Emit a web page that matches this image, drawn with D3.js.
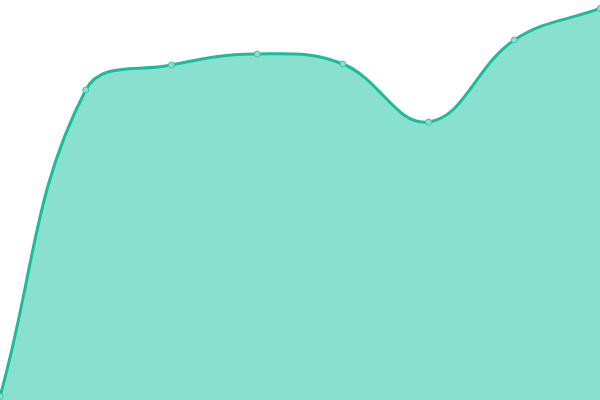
<!DOCTYPE html>
<html>
<head>
<meta charset="utf-8">
<script src="https://cdn.jsdelivr.net/npm/d3@7"></script>
<style>
  html, body { margin: 0; padding: 0; background: #fff; }
  svg { display: block; }
</style>
</head>
<body>
<svg id="chart" width="600" height="400"></svg>
<script>
// series values, one per category step
var categories = [0, 1, 2, 3, 4, 5, 6, 7];
var values = [3.5, 310, 335, 346, 336, 278, 360, 391.5];

var width = 600, height = 400;
var tension = 0.4;

var svg = d3.select("#chart");

var x = d3.scaleLinear()
    .domain([0, categories.length - 1])
    .range([0, width]);

var y = d3.scaleLinear()
    .domain([0, 400])
    .range([height, 0]);

var pts = categories.map(function (c, i) {
    return [x(c), y(values[i])];
});

var clampX = function (v) { return Math.max(0, Math.min(width, v)); };
var clampY = function (v) { return Math.max(0, Math.min(height, v)); };

// Control points from neighbour distances, capped to the plot area.
var control_points = function (p) {
    var n = p.length;
    return p.map(function (cur, i) {
        var prev = p[Math.max(i - 1, 0)];
        var next = p[Math.min(i + 1, n - 1)];
        var d01 = Math.hypot(cur[0] - prev[0], cur[1] - prev[1]);
        var d12 = Math.hypot(next[0] - cur[0], next[1] - cur[1]);
        var s01 = d01 / (d01 + d12), s12 = d12 / (d01 + d12);
        if (isNaN(s01)) s01 = 0;
        if (isNaN(s12)) s12 = 0;
        var fa = tension * s01, fb = tension * s12;
        var vx = next[0] - prev[0], vy = next[1] - prev[1];
        return {
            prev: [clampX(cur[0] - fa * vx), clampY(cur[1] - fa * vy)],
            next: [clampX(cur[0] + fb * vx), clampY(cur[1] + fb * vy)]
        };
    });
};

var smooth_path = function (p, ctx) {
    var cps = control_points(p);
    ctx.moveTo(p[0][0], p[0][1]);
    for (var i = 1; i < p.length; i++) {
        var a = cps[i - 1].next, b = cps[i].prev;
        ctx.bezierCurveTo(a[0], a[1], b[0], b[1], p[i][0], p[i][1]);
    }
    return ctx;
};

var linePath = smooth_path(pts, d3.path()).toString();

var areaCtx = smooth_path(pts, d3.path());
areaCtx.lineTo(pts[pts.length - 1][0], y(0));
areaCtx.lineTo(pts[0][0], y(0));
areaCtx.closePath();

svg.append("path")
    .attr("d", areaCtx.toString())
    .attr("fill", "#8ae0cf");

svg.append("path")
    .attr("d", linePath)
    .attr("fill", "none")
    .attr("stroke", "#1abc9c")
    .attr("stroke-width", 3);

svg.selectAll("circle")
    .data(pts)
    .enter().append("circle")
        .attr("cx", function (d) { return d[0]; })
        .attr("cy", function (d) { return d[1]; })
        .attr("r", 3)
        .attr("fill", "#8ae0cf")
        .attr("stroke", "#3cc7a8")
        .attr("stroke-width", 1);
</script>
</body>
</html>
